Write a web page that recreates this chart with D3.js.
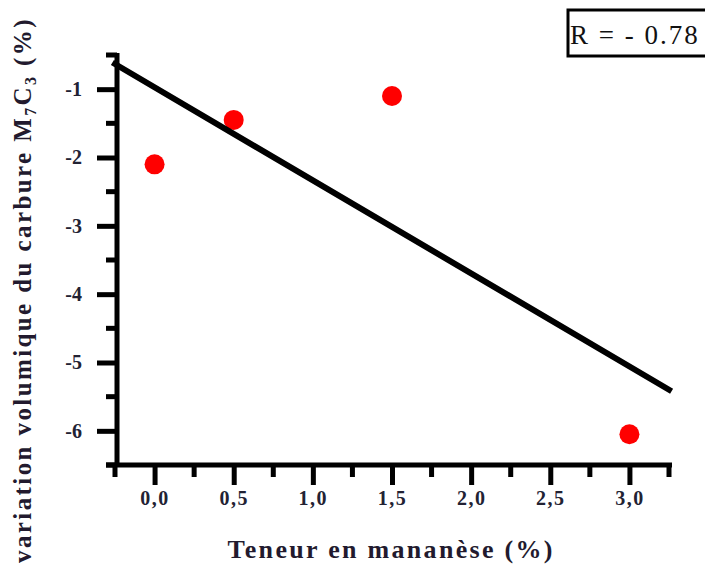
<!DOCTYPE html>
<html>
<head>
<meta charset="utf-8">
<script src="https://cdn.jsdelivr.net/npm/d3@7/dist/d3.min.js"></script>
<style>
  html, body { margin: 0; padding: 0; background: #fff; }
  svg { display: block; }
</style>
</head>
<body>
<svg id="chart" width="705" height="568"></svg>
<script>
// ---- data ----
const manganese = [0.0, 0.5, 1.5, 3.0];
const volumeVariation = [-2.1, -1.45, -1.1, -6.05];
const xTickValues = [0.0, 0.5, 1.0, 1.5, 2.0, 2.5, 3.0];
const xTickLabels = ["0,0", "0,5", "1,0", "1,5", "2,0", "2,5", "3,0"];
const yTickValues = [-1, -2, -3, -4, -5, -6];
const yTickLabels = ["-1", "-2", "-3", "-4", "-5", "-6"];
const xMinorTicks = [-0.25, 0.25, 0.75, 1.25, 1.75, 2.25, 2.75, 3.25];
const yMinorTicks = [-0.5, -1.5, -2.5, -3.5, -4.5, -5.5, -6.5];
const correlationText = "R = - 0.78";
const xTitle = "Teneur en mananèse (%)";

const svg = d3.select("#chart");
const x = d3.scaleLinear().domain([-0.25, 3.25]).range([115, 669]);
const y = d3.scaleLinear().domain([-6.5, -0.5]).range([465, 55]);

// linear regression fit
const n = manganese.length;
const mx = d3.mean(manganese), my = d3.mean(volumeVariation);
let sxy = 0, sxx = 0;
for (let i = 0; i < n; i++) {
  sxy += (manganese[i] - mx) * (volumeVariation[i] - my);
  sxx += (manganese[i] - mx) ** 2;
}
const slope = sxy / sxx, intercept = my - slope * mx;
const fitX = [x.domain()[0], x.domain()[1]];

const serif = "'Liberation Serif', 'DejaVu Serif', serif";

// points
svg.append("g").selectAll("circle").data(manganese).join("circle")
  .attr("cx", (d) => x(d))
  .attr("cy", (d, i) => y(volumeVariation[i]))
  .attr("r", 10)
  .attr("fill", "#ff0000");

// regression line
svg.append("path")
  .datum(fitX)
  .attr("d", d3.line().x(d => x(d)).y(d => y(intercept + slope * d)))
  .attr("stroke", "#000").attr("stroke-width", 6).attr("fill", "none")
  .attr("stroke-linecap", "square");

// x axis
const xAxisG = svg.append("g").attr("transform", `translate(0,${y(-6.5)})`);
xAxisG.call(d3.axisBottom(x).tickValues(xTickValues).tickSize(20)
  .tickFormat((d, i) => xTickLabels[i]).tickSizeOuter(0));
xAxisG.select(".domain").remove();
xAxisG.append("line").attr("x1", 106).attr("x2", x(3.25) + 3).attr("y1", 0).attr("y2", 0)
  .attr("stroke", "#000").attr("stroke-width", 5);
xAxisG.selectAll(".tick line").attr("stroke-width", 5);
xAxisG.selectAll(".tick text").attr("dy", 0).attr("y", 40)
  .attr("font-family", serif).attr("font-weight", "bold").attr("font-size", 20)
  .attr("letter-spacing", 1.5).attr("fill", "#223");
xAxisG.selectAll("line.minor").data(xMinorTicks).join("line").attr("class", "minor")
  .attr("x1", d => x(d)).attr("x2", d => x(d)).attr("y1", 0).attr("y2", 12)
  .attr("stroke", "#000").attr("stroke-width", 5);

// y axis
const yAxisG = svg.append("g").attr("transform", `translate(${x(-0.25) + 2},0)`);
yAxisG.call(d3.axisLeft(y).tickValues(yTickValues).tickSize(20)
  .tickFormat((d, i) => yTickLabels[i]).tickSizeOuter(0));
yAxisG.select(".domain").remove();
yAxisG.append("line").attr("x1", 0).attr("x2", 0).attr("y1", y(-0.5) - 2).attr("y2", y(-6.5))
  .attr("stroke", "#000").attr("stroke-width", 5);
yAxisG.selectAll(".tick line").attr("stroke-width", 5);
yAxisG.selectAll(".tick text").attr("x", -35)
  .attr("font-family", serif).attr("font-weight", "bold").attr("font-size", 20).attr("fill", "#223");
yAxisG.selectAll("line.minor").data(yMinorTicks).join("line").attr("class", "minor")
  .attr("x1", -11).attr("x2", 0).attr("y1", d => y(d)).attr("y2", d => y(d))
  .attr("stroke", "#000").attr("stroke-width", 5);

// axis titles
svg.append("text")
  .attr("x", 390).attr("y", 558)
  .attr("text-anchor", "middle")
  .attr("font-family", serif).attr("font-weight", "bold").attr("font-size", 26)
  .attr("textLength", 325).attr("lengthAdjust", "spacing")
  .attr("fill", "#221a2e")
  .text(xTitle);

const yt = svg.append("text")
  .attr("transform", "translate(31,290) rotate(-90)")
  .attr("text-anchor", "middle")
  .attr("font-family", serif).attr("font-weight", "bold").attr("font-size", 25)
  .attr("letter-spacing", 2.4)
  .attr("fill", "#221a2e");
yt.append("tspan").text("variation volumique du carbure M");
yt.append("tspan").attr("font-size", 16).attr("dy", 5).text("7");
yt.append("tspan").attr("dy", -5).text("C");
yt.append("tspan").attr("font-size", 16).attr("dy", 5).text("3");
yt.append("tspan").attr("dy", -5).text(" (%)");

// R box
svg.append("rect").attr("x", 568).attr("y", 10).attr("width", 145).attr("height", 46)
  .attr("fill", "#fff").attr("stroke", "#000").attr("stroke-width", 3);
svg.append("text").attr("x", 570).attr("y", 44)
  .attr("font-family", serif).attr("font-size", 27).attr("letter-spacing", 2)
  .attr("fill", "#111")
  .text(correlationText);
</script>
</body>
</html>
